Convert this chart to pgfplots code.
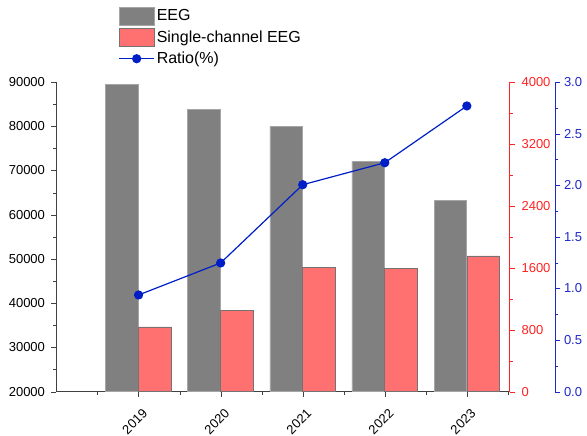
\documentclass[border=0pt]{standalone}
\usepackage{fontspec}
\setmainfont{Liberation Sans}
\usepackage{pgfplots}
\pgfplotsset{compat=1.18}

\definecolor{barGray}{RGB}{128,128,128}
\definecolor{barRed}{RGB}{255,112,112}
\definecolor{axRed}{RGB}{255,35,35}
\definecolor{axBlue}{RGB}{30,40,200}
\definecolor{lineBlue}{RGB}{0,30,200}

\pgfplotsset{
  common/.style={
    scale only axis,
    x=82.07pt, height=309.7pt,
    xmin=0,
    tick align=outside,
    major tick length=5pt,
    minor tick length=3pt,
    tick label style={font=\fontsize{13}{15}\selectfont},
    /pgf/number format/assume math mode=true,
    /pgf/number format/1000 sep={},
  },
  boxlegend/.style={legend image code/.code={\draw[##1] (-4pt,-9pt) rectangle (31pt,9pt);}},
  linelegend/.style={legend image code/.code={\draw[##1] (-4pt,0pt) -- (31pt,0pt); \draw[##1] plot coordinates {(13.5pt,0pt)};}},
}

\begin{document}
\begin{tikzpicture}
% left axis: EEG counts
\begin{axis}[common,
  xmax=5.52,
  ymin=20000, ymax=90000,
  ytick={20000,30000,...,90000},
  minor y tick num=1,
  scaled y ticks=false,
  axis y line*=left, axis x line*=bottom,
  axis line style={draw=black!75},
  tick style={black!75},
  yticklabel style={xshift=-3pt},
  xtick={1,2,3,4,5},
  xticklabels={2019,2020,2021,2022,2023},
  minor xtick={0.5,1.5,2.5,3.5,4.5,5.5},
  xticklabel style={anchor=center, xshift=-3.8pt, yshift=-25pt, rotate=45},
]
\addplot[ybar, bar width=0.4, bar shift=-0.2, fill=barGray, draw=black!35, line width=0.7pt]
  coordinates {(1,89480) (2,83830) (3,79990) (4,72140) (5,63170)};
\end{axis}

% red axis: single-channel EEG counts
\begin{axis}[common,
  xmax=5.52,
  ymin=0, ymax=4000,
  ytick={0,800,...,4000},
  minor y tick num=1,
  axis y line*=right, axis x line=none,
  y axis line style={draw=axRed},
  ytick style={axRed},
  yticklabel style={text=axRed, xshift=3.5pt},
]
\addplot[ybar, bar width=0.4, bar shift=0.2, fill=barRed, draw=black!55, line width=0.7pt]
  coordinates {(1,836) (2,1046) (3,1607) (4,1594) (5,1753)};
\end{axis}

% blue axis: ratio
\begin{axis}[common,
  xmax=6.08,
  ymin=0, ymax=3,
  ytick={0,0.5,...,3},
  minor y tick num=1,
  yticklabel style={text=axBlue, /pgf/number format/.cd, fixed, fixed zerofill, precision=1},
  axis y line*=right, axis x line=none,
  y axis line style={draw=axBlue},
  ytick style={axBlue},
  legend style={at={(0.124,1.2435)}, anchor=north west, draw=none, fill=none,
    font=\fontsize{16}{19}\selectfont, inner sep=0pt, row sep=3pt,
    cells={anchor=west}},
  legend cell align=left,
]
\addlegendimage{boxlegend, fill=barGray, draw=black!35, line width=0.7pt}
\addlegendentry{EEG}
\addlegendimage{boxlegend, fill=barRed, draw=black!55, line width=0.7pt}
\addlegendentry{Single-channel EEG}
\addplot[linelegend, color=lineBlue, line width=1.2pt, mark=*, mark size=4pt]
  coordinates {(1,0.937) (2,1.247) (3,2.005) (4,2.218) (5,2.768)};
\addlegendentry{Ratio(\%)}
\end{axis}

\pgfresetboundingbox
\path[use as bounding box] (-56.5pt,-44.3pt) rectangle (530.5pt,391.7pt);
\end{tikzpicture}
\end{document}
